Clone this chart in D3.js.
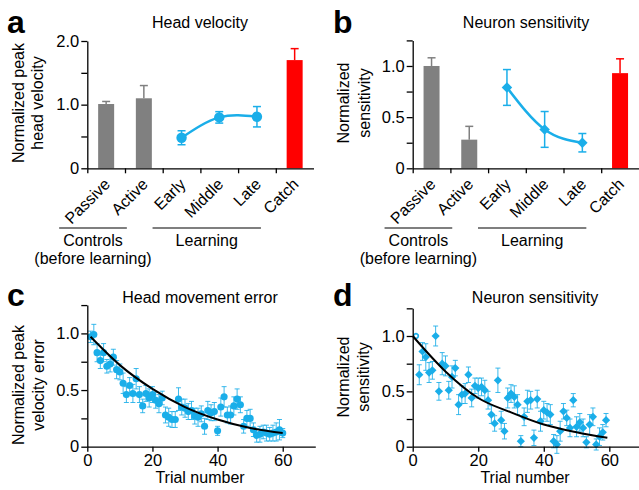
<!DOCTYPE html>
<html>
<head>
<meta charset="utf-8">
<script src="https://cdnjs.cloudflare.com/ajax/libs/d3/7.8.5/d3.min.js"></script>
<style>
	body{margin:0;background:#fff;}
	svg text{font-family:"Liberation Sans",Arial,sans-serif;fill:#000;}
	.axis path,.axis line{stroke:#000;stroke-width:1.3;}
	.axis text{font-size:16.5px;}
</style>
</head>
<body>
<svg id="vis" width="639" height="490"></svg>
<script>
// panels a, b -- conditions
var categories = ['Passive','Active','Early','Middle','Late','Catch'];
var velocityMean = [1.01, 1.10, 0.48, 0.80, 0.81, 1.70];
var velocityErr = [0.04, 0.20, 0.11, 0.09, 0.16, 0.18];
var sensitivityMean = [1.00, 0.28, 0.79, 0.38, 0.25, 0.93];
var sensitivityErr = [0.08, 0.13, 0.175, 0.175, 0.09, 0.14];
var velocityTicks = [0, 0.5, 1, 1.5, 2];
var sensitivityTicks = [0, 0.25, 0.5, 0.75, 1, 1.25];

// panels c, d -- trial by trial
var trialTicks = [0, 20, 40, 60];
var trialYTicks = [0, 0.25, 0.5, 0.75, 1, 1.25];
var errorTrials = [0.97,0.99,0.83,0.76,0.83,0.71,0.73,0.79,0.68,0.66,
	0.56,0.46,0.54,0.47,0.60,0.46,0.36,0.47,0.43,0.46,
	0.41,0.38,0.43,0.28,0.26,0.24,0.24,0.42,0.35,0.34,
	0.31,0.32,0.27,0.26,0.29,0.18,0.32,0.30,0.31,0.14,
	0.35,0.44,0.28,0.28,0.36,0.42,0.37,0.18,0.25,0.25,
	0.15,0.10,0.11,0.13,0.12,0.11,0.12,0.13,0.15,0.12];
var errorTrialsSem = [0.05,0.09,0.08,0.07,0.08,0.06,0.07,0.07,0.08,0.07,
	0.09,0.07,0.07,0.08,0.09,0.07,0.06,0.07,0.08,0.07,
	0.07,0.08,0.06,0.07,0.08,0.07,0.07,0.10,0.07,0.08,
	0.07,0.08,0.07,0.08,0.07,0.07,0.08,0.07,0.08,0.04,
	0.08,0.09,0.07,0.08,0.08,0.09,0.07,0.06,0.07,0.08,
	0.06,0.06,0.07,0.06,0.07,0.06,0.07,0.08,0.09,0.04];
var sensTrials = [1.00,0.65,0.86,0.81,0.67,0.69,1.00,0.50,0.75,0.73,
	0.51,0.63,0.71,0.38,0.47,0.48,0.65,0.44,0.55,0.53,
	0.54,0.51,0.42,0.29,0.21,0.60,0.24,0.14,0.44,0.48,
	0.45,0.38,0.05,0.27,0.41,0.42,0.08,0.43,0.23,0.33,
	0.31,0.29,0.05,0.02,0.14,0.32,0.26,0.17,0.42,0.18,
	0.22,0.17,0.04,0.20,0.27,0.02,0.09,0.13,0.24];
var sensTrialsSem = [0.01,0.09,0.08,0.12,0.09,0.08,0.09,0.08,0.10,0.09,
	0.08,0.10,0.07,0.09,0.08,0.09,0.07,0.08,0.07,0.09,
	0.08,0.09,0.08,0.08,0.07,0.11,0.08,0.07,0.09,0.08,
	0.10,0.09,0.05,0.08,0.10,0.08,0.07,0.08,0.09,0.08,
	0.08,0.09,0.06,0.08,0.09,0.07,0.07,0.08,0.06,0.09,
	0.08,0.08,0.05,0.09,0.08,0.05,0.08,0.07,0.06];
var errorFit = [[1,0.97],[10,0.72],[20,0.51],[30,0.35],[40,0.24],[50,0.165],[60,0.12]];
var sensFit = [[0,1.00],[10,0.68],[20,0.44],[30,0.31],[40,0.20],[50,0.13],[59.4,0.08]];

var BLUE = '#1aaee9',
	GREY = '#808080',
	RED = '#ff0000';

var svg = d3.select('#vis');

function fmtTick(d){
	if(d === 0){ return '0'; }
	return d3.format('.1f')(d);
}

function panelText(o){
	svg.append('text')
		.attr('x',o.letter[0]).attr('y',o.letter[1])
		.style('font-size','32px').style('font-weight','bold')
		.text(o.letterText);
	svg.append('text')
		.attr('x',o.title[0]).attr('y',o.title[1])
		.attr('text-anchor','middle')
		.style('font-size','16px')
		.text(o.titleText);
	o.ylab.forEach(function(l){
		svg.append('text')
			.attr('transform','translate(' +l[0] +',' +o.ylabY +') rotate(-90)')
			.attr('text-anchor','middle')
			.attr('dy','0.35em')
			.style('font-size','16px')
			.text(l[1]);
	});
}

function barPanel(o){
	var bw = 37.7,
		x0 = o.x0;
	var xb = d3.scaleBand().domain(categories).range([x0, x0 +6*bw]);
	var xi = d3.scaleLinear().domain([0,6]).range([x0, x0 +6*bw]);
	var y = d3.scaleLinear().domain([0,o.ymax]).range([168.3, o.yTop]);
	var g = svg.append('g');

	var cx = function(c){ return xb(c) +bw/2; };

	// bars
	var barIdx = [0,1,5];
	var barData = barIdx.map(function(i){ return {c:categories[i],v:o.mean[i],e:o.err[i],col:i===5 ? RED : GREY}; });
	g.selectAll('rect.bar')
		.data(barData)
		.enter().append('rect')
		.classed('bar',true)
		.attr('x',function(d){ return cx(d.c) -8; })
		.attr('y',function(d){ return y(d.v); })
		.attr('width',16)
		.attr('height',function(d){ return y(0) -y(d.v); })
		.attr('fill',function(d){ return d.col; });
	var eb = g.selectAll('g.barerr')
		.data(barData)
		.enter().append('g').classed('barerr',true);
	eb.append('line')
		.attr('x1',function(d){ return cx(d.c); }).attr('x2',function(d){ return cx(d.c); })
		.attr('y1',function(d){ return y(d.v); }).attr('y2',function(d){ return y(d.v +d.e); })
		.attr('stroke',function(d){ return d.col; }).attr('stroke-width',1.5);
	eb.append('line')
		.attr('x1',function(d){ return cx(d.c) -4; }).attr('x2',function(d){ return cx(d.c) +4; })
		.attr('y1',function(d){ return y(d.v +d.e); }).attr('y2',function(d){ return y(d.v +d.e); })
		.attr('stroke',function(d){ return d.col; }).attr('stroke-width',1.5);

	// learning curve
	var learn = [2,3,4].map(function(i){ return {c:categories[i],v:o.mean[i],e:o.err[i]}; });
	g.append('path')
		.datum(learn)
		.attr('fill','none')
		.attr('stroke',BLUE)
		.attr('stroke-width',2.5)
		.attr('d',d3.line().curve(d3.curveNatural)
			.x(function(d){ return cx(d.c); })
			.y(function(d){ return y(d.v); }));
	var le = g.selectAll('g.learnerr').data(learn).enter().append('g');
	le.append('line')
		.attr('x1',function(d){ return cx(d.c); }).attr('x2',function(d){ return cx(d.c); })
		.attr('y1',function(d){ return y(d.v -d.e); }).attr('y2',function(d){ return y(d.v +d.e); })
		.attr('stroke',BLUE).attr('stroke-width',1.5);
	[-1,1].forEach(function(s){
		le.append('line')
			.attr('x1',function(d){ return cx(d.c) -4; }).attr('x2',function(d){ return cx(d.c) +4; })
			.attr('y1',function(d){ return y(d.v +s*d.e); }).attr('y2',function(d){ return y(d.v +s*d.e); })
			.attr('stroke',BLUE).attr('stroke-width',1.5);
	});
	le.append('path')
		.attr('transform',function(d){ return 'translate(' +cx(d.c) +',' +y(d.v) +')' +(o.diamond ? ' rotate(45)' : ''); })
		.attr('d',o.diamond ? d3.symbol(d3.symbolSquare,55)() : d3.symbol(d3.symbolCircle,85)())
		.attr('fill',BLUE);

	// axes
	g.append('g').attr('class','axis')
		.attr('transform','translate(' +x0 +',0)')
		.call(d3.axisLeft(y).tickValues(o.ticks).tickSize(6).tickPadding(2).tickSizeOuter(0)
			.tickFormat(function(d){ return o.labels.indexOf(d) >= 0 ? fmtTick(d) : ''; }));
	g.append('g').attr('class','axis')
		.attr('transform','translate(0,' +y(0) +')')
		.call(d3.axisBottom(xi).tickValues([0,1,2,3,4,5]).tickSize(5).tickSizeOuter(0).tickFormat(''));

	g.selectAll('text.cat')
		.data(categories).enter().append('text')
		.attr('transform',function(d){ return 'translate(' +(cx(d) +5) +',' +(y(0) +17) +') rotate(-45)'; })
		.attr('text-anchor','end')
		.style('font-size','16px')
		.text(function(d){ return d; });

	// groups
	var groups = [
		{a:cx('Passive') -47, b:cx('Active') -17, t:['Controls','(before learning)']},
		{a:cx('Early') -29, b:cx('Late') +4, t:['Learning']}
	];
	groups.forEach(function(gr){
		g.append('line')
			.attr('x1',gr.a).attr('x2',gr.b)
			.attr('y1',228).attr('y2',228)
			.attr('stroke','#000').attr('stroke-width',1.2);
		gr.t.forEach(function(t,i){
			g.append('text')
				.attr('x',(gr.a +gr.b)/2).attr('y',246 +i*18)
				.attr('text-anchor','middle')
				.style('font-size','16px')
				.text(t);
		});
	});
}

function trialPanel(o){
	var x = d3.scaleLinear().domain([0,70]).range([o.x0, o.x0 +70*o.px]);
	var y = d3.scaleLinear().domain([0,1.25]).range([446.7, 446.7 -1.25*o.py]);
	var g = svg.append('g');
	var pts = o.vals.map(function(v,i){ return {t:i +1, v:v, e:o.sem[i]}; });

	var eg = g.selectAll('g.err').data(pts).enter().append('g');
	eg.append('line')
		.attr('x1',function(d){ return x(d.t); }).attr('x2',function(d){ return x(d.t); })
		.attr('y1',function(d){ return y(d.v -d.e); }).attr('y2',function(d){ return y(d.v +d.e); })
		.attr('stroke',BLUE).attr('stroke-width',1).attr('opacity',0.85);
	[-1,1].forEach(function(s){
		eg.append('line')
			.attr('x1',function(d){ return x(d.t) -2.5; }).attr('x2',function(d){ return x(d.t) +2.5; })
			.attr('y1',function(d){ return y(d.v +s*d.e); }).attr('y2',function(d){ return y(d.v +s*d.e); })
			.attr('stroke',BLUE).attr('stroke-width',1).attr('opacity',0.85);
	});
	g.selectAll('path.pt').data(pts).enter().append('path')
		.attr('transform',function(d){ return 'translate(' +x(d.t) +',' +y(d.v) +')' +(o.diamond ? ' rotate(45)' : ''); })
		.attr('d',function(d,i){
			if(o.diamond && i === 0){ return d3.symbol(d3.symbolCircle,16)(); }
			return o.diamond ? d3.symbol(d3.symbolSquare,34)() : d3.symbol(d3.symbolCircle,40)();
		})
		.attr('fill',function(d,i){ return o.diamond && i === 0 ? '#fff' : BLUE; })
		.attr('stroke',function(d,i){ return o.diamond && i === 0 ? BLUE : 'none'; })
		.attr('stroke-width',1.5);

	g.append('path')
		.datum(o.fit)
		.attr('fill','none')
		.attr('stroke','#000')
		.attr('stroke-width',2)
		.attr('d',d3.line().curve(d3.curveMonotoneX)
			.x(function(d){ return x(d[0]); })
			.y(function(d){ return y(d[1]); }));

	g.append('g').attr('class','axis')
		.attr('transform','translate(' +o.x0 +',0)')
		.call(d3.axisLeft(y).tickValues(trialYTicks).tickSize(6).tickPadding(2).tickSizeOuter(0)
			.tickFormat(function(d){ return [0,0.5,1].indexOf(d) >= 0 ? fmtTick(d) : ''; }));
	g.append('g').attr('class','axis')
		.attr('transform','translate(0,446.7)')
		.call(d3.axisBottom(x).tickValues(trialTicks).tickSize(5).tickPadding(3).tickSizeOuter(0)
			.tickFormat(d3.format('d')));
	g.append('text')
		.attr('x',o.xlab).attr('y',483)
		.attr('text-anchor','middle')
		.style('font-size','16px')
		.text('Trial number');
}

barPanel({x0:87.3, ymax:2, yTop:41, ticks:velocityTicks, labels:[0,1,2], mean:velocityMean, err:velocityErr, diamond:false});
barPanel({x0:412.7, ymax:1.25, yTop:40.4, ticks:sensitivityTicks, labels:[0,0.5,1], mean:sensitivityMean, err:sensitivityErr, diamond:true});
trialPanel({x0:87.3, px:3.257, py:113.3, vals:errorTrials, sem:errorTrialsSem, fit:errorFit, diamond:false, xlab:200});
trialPanel({x0:412.7, px:3.277, py:110.7, vals:sensTrials, sem:sensTrialsSem, fit:sensFit, diamond:true, xlab:525});

panelText({letter:[7,33], letterText:'a', title:[200,28], titleText:'Head velocity', ylabY:103, ylab:[[18,'Normalized peak'],[37,'head velocity']]});
panelText({letter:[333,33], letterText:'b', title:[526,28], titleText:'Neuron sensitivity', ylabY:103, ylab:[[343,'Normalized'],[364,'sensitivity']]});
panelText({letter:[7,306], letterText:'c', title:[200,303], titleText:'Head movement error', ylabY:385, ylab:[[18,'Normalized peak'],[38,'velocity error']]});
panelText({letter:[333,306], letterText:'d', title:[535,303], titleText:'Neuron sensitivity', ylabY:377, ylab:[[343,'Normalized'],[363,'sensitivity']]});
</script>
</body>
</html>
